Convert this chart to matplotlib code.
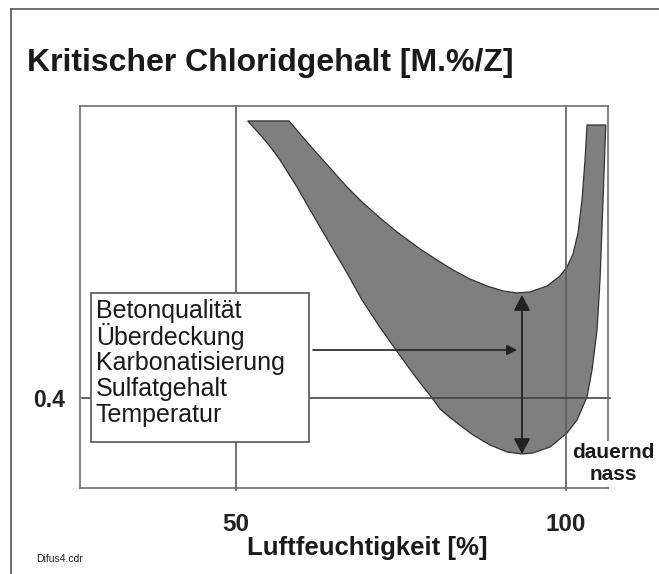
import numpy as np
import matplotlib
matplotlib.use("Agg")
import matplotlib.pyplot as plt
from matplotlib.patches import Rectangle, Polygon
from matplotlib.lines import Line2D

plt.rcParams['font.family'] = ['Liberation Sans', 'DejaVu Sans']

W, H = 659, 574

# band: outer (lower) boundary, left top -> minimum -> right top
outer_x = [51.77, 52.88, 54.09, 55.45, 56.67, 59.24, 61.67, 64.24, 66.82, 69.09,
           71.67, 74.24, 76.97, 79.70, 80.91, 81.97, 83.48, 85.91, 88.48, 91.06,
           93.33, 95.00, 97.58, 100.15, 101.67, 103.18, 103.94, 104.70, 105.15,
           105.61, 106.02]
outer_y = [0.7078, 0.6989, 0.6889, 0.6767, 0.6644, 0.6344, 0.6033, 0.5711, 0.5389, 0.5089,
           0.4800, 0.4533, 0.4256, 0.4000, 0.3878, 0.3811, 0.3722, 0.3589, 0.3478, 0.3400,
           0.3378, 0.3389, 0.3456, 0.3611, 0.3756, 0.4011, 0.4311, 0.4756, 0.5311,
           0.6200, 0.7033]
# inner (upper) boundary, right top -> minimum -> left top
inner_x = [103.18, 102.88, 102.42, 101.82, 101.06, 100.15, 99.09, 97.12, 94.55, 92.58,
           90.45, 88.03, 85.45, 82.88, 80.45, 77.88, 74.39, 71.82, 69.24, 66.82,
           64.24, 61.67, 59.70, 58.03]
inner_y = [0.7033, 0.6644, 0.6200, 0.5833, 0.5600, 0.5456, 0.5356, 0.5244, 0.5178, 0.5167,
           0.5189, 0.5244, 0.5322, 0.5422, 0.5533, 0.5656, 0.5844, 0.6000, 0.6167, 0.6344,
           0.6556, 0.6767, 0.6933, 0.7078]

x_ticks = [50, 100]
y_ticks = [0.4]
factors = ['Betonqualität', 'Überdeckung', 'Karbonatisierung', 'Sulfatgehalt', 'Temperatur']
range_x = 93.33
range_y = [0.5144, 0.3378]
pointer_x = [61.67, 92.58]
pointer_y = 0.4533

def fx(px):
    return px / W

def fy(py):
    return 1 - py / H

fig = plt.figure(figsize=(W / 100, H / 100), dpi=100)
ax = fig.add_axes([fx(80), fy(488), (608 - 80) / W, (488 - 106) / H])
ax.set_xlim(26.36, 106.36)
ax.set_ylim(0.30, 0.7244)

gray = '#6e6e6e'
for s in ax.spines.values():
    s.set_color(gray)
    s.set_linewidth(1.2)

band = Polygon(np.column_stack([outer_x + inner_x, outer_y + inner_y]), closed=True,
               facecolor='#807f7f', edgecolor='#333333', linewidth=0.9, zorder=1)
ax.add_patch(band)

for xv in x_ticks:
    ax.axvline(xv, ymin=-2 / 382, ymax=1, color='#5a5a5a', lw=1.2, zorder=2, clip_on=False)
for yv in y_ticks:
    ax.axhline(yv, xmin=2 / 528, xmax=530 / 528, color='#444444', lw=1.2, zorder=2, clip_on=False)

ax.set_xticks(x_ticks)
ax.set_xticklabels([str(v) for v in x_ticks], fontsize=17.5, fontweight='bold', color='#222222')
ax.set_yticks(y_ticks)
ax.set_yticklabels([str(v) for v in y_ticks], fontsize=16.5, fontweight='bold', color='#222222')
ax.tick_params(length=0)
ax.tick_params(axis='x', pad=18)
ax.tick_params(axis='y', pad=11)

# factor box
ax.add_patch(Rectangle((fx(91), fy(442)), (309 - 91) / W, (442 - 293) / H,
                       transform=fig.transFigure, facecolor='white', edgecolor='#555555',
                       lw=1.2, zorder=4, clip_on=False))
line_y = [311, 337, 363, 389, 415]
for t, py in zip(factors, line_y):
    fig.text(fx(96), fy(py), t, fontsize=18, va='center', ha='left', color='#1a1a1a', zorder=5)

# arrows
ax.annotate('', xy=(range_x, range_y[0]), xytext=(range_x, range_y[1]),
            arrowprops=dict(arrowstyle='<|-|>,head_length=0.47,head_width=0.25',
                            mutation_scale=20, color='#222222', lw=1.3,
                            shrinkA=0, shrinkB=0), zorder=6)
ax.annotate('', xy=(pointer_x[1], pointer_y), xytext=(pointer_x[0], pointer_y),
            arrowprops=dict(arrowstyle='-|>,head_length=0.6,head_width=0.3',
                            mutation_scale=10, color='#222222', lw=1.2,
                            shrinkA=0, shrinkB=0), zorder=6)

ax.text(fx(613), fy(464), 'dauernd\nnass', transform=fig.transFigure, ha='center', va='center',
        fontsize=15, fontweight='bold', color='#1a1a1a', linespacing=1.2, zorder=7,
        bbox=dict(facecolor='white', edgecolor='none', pad=2))

fig.text(fx(27), fy(71), 'Kritischer Chloridgehalt [M.%/Z]', fontsize=23,
         fontweight='bold', color='#1a1a1a', va='baseline', ha='left')
fig.text(fx(367), fy(548), 'Luftfeuchtigkeit [%]', fontsize=18.5, fontweight='bold',
         color='#1a1a1a', va='center', ha='center')
fig.text(fx(36), fy(559), 'Difus4.cdr', fontsize=7.5, color='#222222', va='center', ha='left')

# outer frame
fig.add_artist(Line2D([fx(11), fx(11)], [0, fy(9)], color='#555555', lw=1.2))
fig.add_artist(Line2D([fx(11), 1], [fy(9), fy(9)], color='#555555', lw=1.2))

fig.savefig('out.png', dpi=100)
